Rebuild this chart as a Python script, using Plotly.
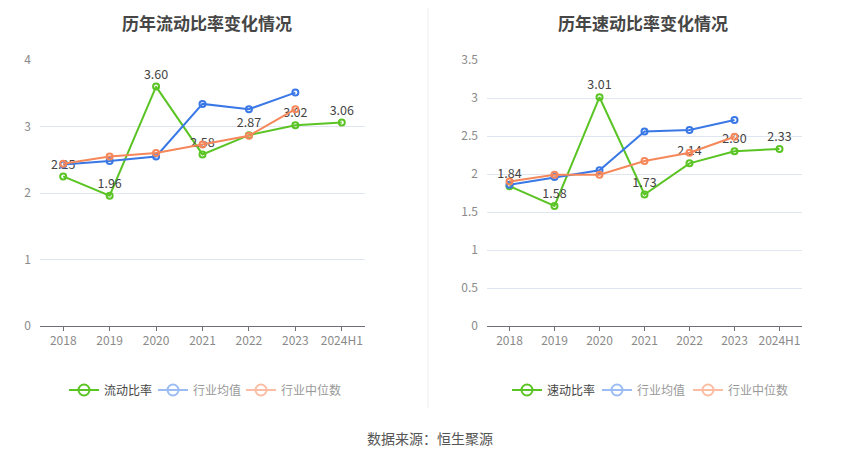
import plotly.graph_objects as go

# 数据
years = ["2018", "2019", "2020", "2021", "2022", "2023", "2024H1"]
ind_years = ["2018", "2019", "2020", "2021", "2022", "2023"]

liudong = [2.25, 1.96, 3.60, 2.58, 2.87, 3.02, 3.06]
liudong_avg = [2.43, 2.48, 2.55, 3.34, 3.26, 3.51]
liudong_med = [2.44, 2.55, 2.60, 2.73, 2.86, 3.26]

sudong = [1.84, 1.58, 3.01, 1.73, 2.14, 2.30, 2.33]
sudong_avg = [1.86, 1.96, 2.05, 2.56, 2.58, 2.71]
sudong_med = [1.90, 1.99, 1.99, 2.17, 2.28, 2.49]

GREEN = "#5AC424"
BLUE = "#3A78E6"
ORANGE = "#F5875A"
FONT = "Noto Sans CJK SC"

# 页面 body 有 8px 边距，图按 834x443 画，坐标按窗口像素换算
W, H, OFF = 834, 443, 8


def px(x):
    return (x - OFF) / W


def py(y):
    return 1 - (y - OFF) / H


fig = go.Figure()
legend_defs = {}


def add_panel(main, avg, med, main_name, xa, ya, leg_x):
    mk = dict(symbol="circle-open", size=6, line=dict(width=2))
    fig.add_trace(go.Scatter(x=years, y=main, mode="lines+markers+text", name=main_name,
                             text=["%.2f" % v for v in main], textposition="top center",
                             textfont=dict(size=12.5, color="#444"),
                             line=dict(color=GREEN, width=2), marker=dict(color=GREEN, **mk),
                             xaxis=xa, yaxis=ya, showlegend=False, cliponaxis=False))
    fig.add_trace(go.Scatter(x=ind_years, y=avg, mode="lines+markers", name="行业均值",
                             line=dict(color=BLUE, width=2), marker=dict(color=BLUE, **mk),
                             xaxis=xa, yaxis=ya, showlegend=False))
    fig.add_trace(go.Scatter(x=ind_years, y=med, mode="lines+markers", name="行业中位数",
                             line=dict(color=ORANGE, width=2), marker=dict(color=ORANGE, **mk),
                             xaxis=xa, yaxis=ya, showlegend=False))
    # 图例，每项单独放
    items = [(main_name, GREEN, "#444"), ("行业均值", "#9CBCF4", "#999"),
             ("行业中位数", "#FBBDA3", "#999")]
    for (nm, col, tc), lx in zip(items, leg_x):
        lid = "legend" if not legend_defs else "legend%d" % (len(legend_defs) + 1)
        legend_defs[lid] = lx
        fig.add_trace(go.Scatter(x=[None], y=[None], mode="lines+markers",
                                 name="<span style='color:%s'>%s</span>" % (tc, nm),
                                 line=dict(color=col, width=2),
                                 marker=dict(color=col, symbol="circle-open", size=11, line=dict(width=2)),
                                 xaxis=xa, yaxis=ya, legend=lid))


add_panel(liudong, liudong_avg, liudong_med, "流动比率", "x", "y", [64, 153, 241])
add_panel(sudong, sudong_avg, sudong_med, "速动比率", "x2", "y2", [507, 597, 688])

xcommon = dict(type="category", range=[-0.5, 6.5], showgrid=False, showline=True,
               linecolor="#6E7079", linewidth=1, ticks="outside", ticklen=4, tickcolor="#6E7079",
               tickfont=dict(size=12, color="#8a8a8a"), fixedrange=True)
ycommon = dict(showgrid=True, gridcolor="#E0E6F1", gridwidth=1, zeroline=False, showline=False,
               tickfont=dict(size=12, color="#8a8a8a"), ticks="", ticklabelstandoff=8)

legends = {}
for lid, lx in legend_defs.items():
    legends[lid] = dict(orientation="h", xanchor="left", yanchor="middle", x=px(lx), y=py(390),
                        font=dict(size=12, family=FONT), bgcolor="rgba(0,0,0,0)",
                        itemclick=False, itemdoubleclick=False)

fig.update_layout(
    width=W, height=H,
    margin=dict(l=0, r=0, t=0, b=0, autoexpand=False),
    paper_bgcolor="white", plot_bgcolor="white",
    font=dict(family=FONT, color="#444"),
    xaxis=dict(domain=[px(40), px(365)], anchor="y", **xcommon),
    yaxis=dict(domain=[py(326), py(60)], anchor="x", range=[0, 4], dtick=1, **ycommon),
    xaxis2=dict(domain=[px(487), px(802)], anchor="y2", **xcommon),
    yaxis2=dict(domain=[py(326), py(60)], anchor="x2", range=[0, 3.5], dtick=0.5, **ycommon),
    annotations=[
        dict(text="<b>历年流动比率变化情况</b>", x=px(207), y=1, xref="paper", yref="paper",
             showarrow=False, font=dict(size=17, color="#464646"), xanchor="center", yanchor="top"),
        dict(text="<b>历年速动比率变化情况</b>", x=px(643), y=1, xref="paper", yref="paper",
             showarrow=False, font=dict(size=17, color="#464646"), xanchor="center", yanchor="top"),
        dict(text="数据来源：恒生聚源", x=px(430), y=py(438), xref="paper", yref="paper",
             showarrow=False, font=dict(size=14, color="#555"), xanchor="center", yanchor="middle"),
    ],
    shapes=[dict(type="line", xref="paper", yref="paper", x0=px(428), x1=px(428),
                 y0=py(408), y1=1, line=dict(color="#EEEEEE", width=1))],
    **legends,
)

fig.write_html("out.html")
